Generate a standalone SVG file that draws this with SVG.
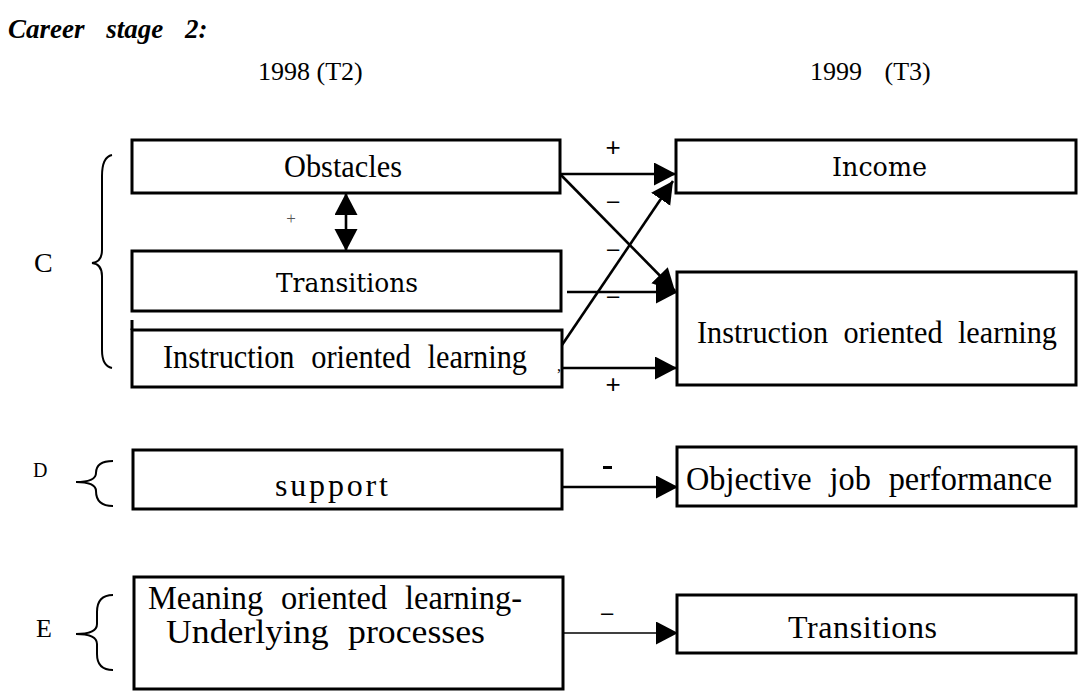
<svg xmlns="http://www.w3.org/2000/svg" width="1080" height="692" viewBox="0 0 1080 692">
<style>
.box{fill:none;stroke:#000;stroke-width:3}
.t{font-family:"Liberation Serif","Times New Roman",serif;font-size:32px;fill:#000}
.w{font-family:"Liberation Serif","Times New Roman",serif;font-size:33px;word-spacing:10px;fill:#000}
.b{font-family:"DejaVu Serif","Liberation Serif",serif;font-size:26px;fill:#000}
.h{font-family:"Liberation Serif","Times New Roman",serif;font-size:26px;fill:#000}
.lbl{font-family:"Liberation Sans",Arial,sans-serif;font-size:22px;fill:#000}
.pl{font-family:"Liberation Sans",Arial,sans-serif;font-size:26px;fill:#000}
.br{fill:none;stroke:#000;stroke-width:2}
.c{stroke:#000;stroke-width:2.6;fill:none}
</style>
<defs>
<marker id="ah" markerUnits="userSpaceOnUse" markerWidth="24" markerHeight="24" refX="22" refY="11.5" orient="auto-start-reverse" viewBox="0 0 24 24">
<path d="M0,0 L22,11.5 L0,23 z" fill="#000"/>
</marker>
</defs>
<rect width="1080" height="692" fill="#fff"/>
<g id="titles">
<text x="8" y="38" class="h" style="font-weight:bold;font-style:italic;font-size:27px;word-spacing:15px">Career stage 2:</text>
<text x="258" y="80" class="h">1998 (T2)</text>
<text x="810" y="80" class="h" style="word-spacing:16px">1999 (T3)</text>
</g>
<g id="group-C">
<text x="34" y="272" class="h" style="font-size:28px">C</text>
<path class="br" d="M112,155 Q102,157 102,176 L102,250 Q102,262 92,263 Q102,264 102,276 L102,350 Q102,366 112,368"/>
</g>
<g id="group-D">
<text x="33" y="477" class="h" style="font-size:20px">D</text>
<path class="br" d="M113,461 Q96,461 96,473 Q96,482 76,482 Q96,482 96,491 Q96,506 113,506"/>
</g>
<g id="group-E">
<text x="36" y="637" class="h" style="font-size:26px">E</text>
<path class="br" d="M113,595 Q97,595 97,612 L97,624 Q97,634 76,634 Q97,634 97,644 L97,654 Q97,670 113,670"/>
</g>
<g id="node-obstacles">
<rect class="box" x="132" y="140" width="428" height="53"/>
<text x="284" y="177" class="t" textLength="118" lengthAdjust="spacingAndGlyphs">Obstacles</text>
</g>
<g id="node-transitions-left">
<rect class="box" x="132" y="251" width="429" height="60"/>
<text x="276" y="292" class="b" textLength="142" lengthAdjust="spacingAndGlyphs">Transitions</text>
</g>
<g id="node-instruction-left">
<rect class="box" x="132" y="330" width="430" height="57"/>
<line x1="132" y1="320" x2="132" y2="330" stroke="#000" stroke-width="3"/>
<text x="163" y="368" class="w" textLength="364" lengthAdjust="spacingAndGlyphs">Instruction oriented learning</text>
<text x="557" y="371" class="t" style="font-size:16px">,</text>
</g>
<g id="node-support">
<rect class="box" x="133" y="450" width="429" height="59"/>
<text x="275" y="496" class="t" textLength="113" lengthAdjust="spacing">support</text>
</g>
<g id="node-meaning">
<rect class="box" x="134" y="577" width="429" height="112"/>
<text x="148" y="609" class="w" textLength="374" lengthAdjust="spacingAndGlyphs">Meaning oriented learning-</text>
<text x="166" y="643" class="w" style="font-size:34px" textLength="319" lengthAdjust="spacingAndGlyphs">Underlying processes</text>
</g>
<g id="node-income">
<rect class="box" x="676" y="140" width="400" height="53"/>
<text x="832" y="176" class="b" textLength="95" lengthAdjust="spacingAndGlyphs">Income</text>
</g>
<g id="node-instruction-right">
<rect class="box" x="677" y="272" width="399" height="113"/>
<text x="697" y="343" class="w" style="font-size:31px;word-spacing:8px" textLength="360" lengthAdjust="spacingAndGlyphs">Instruction oriented learning</text>
</g>
<g id="node-objective">
<rect class="box" x="677" y="447" width="399" height="59"/>
<text x="686" y="490" class="w" textLength="366" lengthAdjust="spacingAndGlyphs">Objective job performance</text>
</g>
<g id="node-transitions-right">
<rect class="box" x="677" y="595" width="399" height="58"/>
<text x="788" y="638" class="t" textLength="149" lengthAdjust="spacing">Transitions</text>
</g>
<g id="connectors">
<line class="c" x1="346" y1="193" x2="346" y2="251" marker-start="url(#ah)" marker-end="url(#ah)"/>
<line class="c" x1="560" y1="174" x2="676" y2="174" marker-end="url(#ah)"/>
<line class="c" x1="560" y1="174" x2="675" y2="291" marker-end="url(#ah)"/>
<line class="c" x1="567" y1="292" x2="678" y2="292" marker-end="url(#ah)"/>
<line class="c" x1="562" y1="345" x2="673" y2="181" marker-end="url(#ah)"/>
<line class="c" x1="562" y1="368" x2="677" y2="368" marker-end="url(#ah)"/>
<line class="c" x1="562" y1="487" x2="678" y2="487" marker-end="url(#ah)"/>
<line class="c" style="stroke-width:1.6" x1="563" y1="633" x2="678" y2="633" marker-end="url(#ah)"/>
</g>
<g id="labels">
<text x="291" y="224" class="t" style="font-size:17px;fill:#555" text-anchor="middle">+</text>
<text x="613" y="156" class="pl" text-anchor="middle">+</text>
<text x="613" y="208" class="lbl" text-anchor="middle">–</text>
<text x="613" y="256" class="lbl" text-anchor="middle">–</text>
<text x="613" y="303" class="lbl" text-anchor="middle">–</text>
<text x="613" y="393" class="pl" text-anchor="middle">+</text>
<rect x="603" y="466" width="9" height="3" fill="#000"/>
<text x="607" y="620" class="lbl" text-anchor="middle">–</text>
</g>
</svg>
